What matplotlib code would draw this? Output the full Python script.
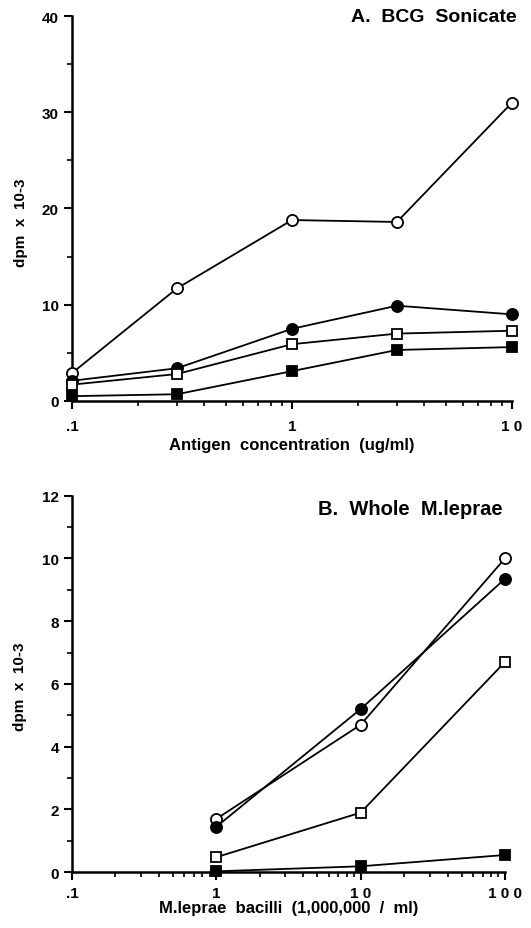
import matplotlib
matplotlib.use("Agg")
import matplotlib.pyplot as plt
from matplotlib.ticker import FixedLocator, LogLocator, NullFormatter, MultipleLocator

plt.rcParams['font.family'] = ['Liberation Sans', 'DejaVu Sans']
plt.rcParams['font.weight'] = 'bold'

# --- Panel A: BCG sonicate ---
conc_a = [0.1, 0.3, 1, 3, 10]
open_circle_a = [2.9, 11.7, 18.8, 18.6, 31.0]
filled_circle_a = [2.1, 3.4, 7.5, 9.9, 9.0]
open_square_a = [1.7, 2.8, 5.9, 7.0, 7.3]
filled_square_a = [0.5, 0.7, 3.1, 5.3, 5.6]

# --- Panel B: whole M.leprae ---
bacilli_b = [1, 10, 100]
open_circle_b = [1.7, 4.7, 10.0]
filled_circle_b = [1.45, 5.2, 9.35]
open_square_b = [0.48, 1.9, 6.7]
filled_square_b = [0.03, 0.19, 0.55]

xticks_a = [0.1, 1, 10]
xlabels_a = [".1", "1", "1 0"]
xticks_b = [0.1, 1, 10, 100]
xlabels_b = [".1", "1", "1 0", "1 0 0"]


def plot_series(ax, x, ys):
    styles = [("o", "white"), ("o", "black"), ("s", "white"), ("s", "black")]
    for y, (m, fc) in zip(ys, styles):
        ax.plot(x, y, color="black", lw=1.3, marker=m, ms=8 if m == "o" else 7.5,
                mfc=fc, mec="black", mew=1.3, clip_on=False, zorder=3)


def style_axes(ax, ymax, ymajor, yminor, xlim, xticks, xlabels, xpad):
    ax.set_xscale("log")
    ax.set_xlim(*xlim)
    ax.set_ylim(0, ymax)
    for s in ["top", "right"]:
        ax.spines[s].set_visible(False)
    for s in ["left", "bottom"]:
        ax.spines[s].set_linewidth(1.8)
    ax.yaxis.set_major_locator(MultipleLocator(ymajor))
    ax.yaxis.set_minor_locator(MultipleLocator(yminor))
    ax.xaxis.set_major_locator(FixedLocator(xticks))
    ax.set_xticklabels(xlabels)
    ax.xaxis.set_minor_locator(LogLocator(base=10, subs=range(2, 10)))
    ax.xaxis.set_minor_formatter(NullFormatter())
    ax.tick_params(axis="both", which="major", direction="out", length=6, width=1.5,
                   labelsize=11)
    ax.tick_params(axis="x", which="major", pad=xpad)
    ax.tick_params(axis="both", which="minor", direction="out", length=3.5, width=1.2)
    ax.set_ylabel("dpm  x  10-3", fontsize=11, fontweight="bold")


fig = plt.figure(figsize=(5.31, 9.29), dpi=100)

ax1 = fig.add_axes([0.1356, 0.5673, 0.8286, 0.4144])
plot_series(ax1, conc_a, [open_circle_a, filled_circle_a, open_square_a, filled_square_a])
style_axes(ax1, 40, 10, 5, (0.1, 10), xticks_a, xlabels_a, 7)
ax1.yaxis.set_label_coords(-0.1, 0.465)
ax1.set_xlabel("Antigen  concentration  (ug/ml)", fontsize=12, fontweight="bold", labelpad=3)
ax1.text(1.01, 1.0, "A.  BCG  Sonicate", transform=ax1.transAxes, ha="right", va="center",
         fontsize=14, fontweight="bold")

ax2 = fig.add_axes([0.1356, 0.0600, 0.8154, 0.4054])
plot_series(ax2, bacilli_b, [open_circle_b, filled_circle_b, open_square_b, filled_square_b])
style_axes(ax2, 12, 2, 1, (0.1, 100), xticks_b, xlabels_b, 4)
ax2.yaxis.set_label_coords(-0.105, 0.495)
ax2.set_xlabel("M.leprae  bacilli  (1,000,000  /  ml)", fontsize=12, fontweight="bold", labelpad=0)
ax2.text(0.995, 0.965, "B.  Whole  M.leprae", transform=ax2.transAxes, ha="right", va="center",
         fontsize=14.5, fontweight="bold")

fig.savefig("out.png", dpi=100)
